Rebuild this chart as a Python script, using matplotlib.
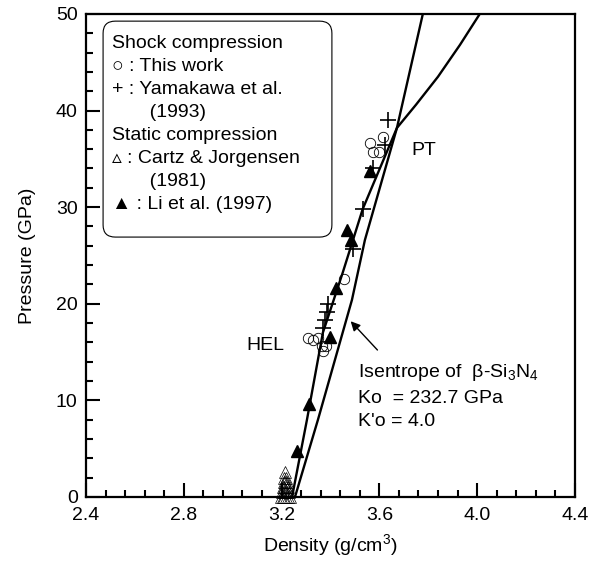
import numpy as np
import matplotlib
matplotlib.use("Agg")
import matplotlib.pyplot as plt
from matplotlib.patches import FancyBboxPatch

plt.rcParams['font.family'] = ['Liberation Sans', 'DejaVu Sans']
plt.rcParams['mathtext.fontset'] = 'custom'
plt.rcParams['mathtext.rm'] = 'Liberation Sans'
plt.rcParams['mathtext.it'] = 'Liberation Sans'

# Hugoniot (through the shock data) and isentrope
hug_density = [3.243, 3.304, 3.369, 3.450, 3.532, 3.672, 3.750, 3.840, 3.930, 4.011]
hug_pressure = [0.0, 8.0, 17.0, 23.2, 29.8, 38.2, 40.6, 43.5, 46.8, 50.0]
isen_density = [3.255, 3.349, 3.488, 3.541, 3.672, 3.778]
isen_pressure = [0.0, 8.0, 20.4, 26.6, 38.2, 50.0]

# Shock compression: this work
tw_density = [3.310, 3.330, 3.350, 3.365, 3.380, 3.370, 3.455, 3.562, 3.615, 3.576, 3.600]
tw_pressure = [16.5, 16.2, 16.5, 15.6, 15.6, 15.1, 22.6, 36.6, 37.3, 35.7, 35.7]

# Shock compression: Yamakawa et al. (1993)
ya_density = [3.368, 3.378, 3.386, 3.390, 3.492, 3.532, 3.574, 3.623, 3.636]
ya_pressure = [17.5, 18.3, 19.1, 20.0, 25.7, 29.8, 34.0, 36.4, 39.0]

# Static compression: Cartz & Jorgensen (1981)
cj_density = [3.196, 3.204, 3.212, 3.220, 3.228, 3.236, 3.200, 3.208, 3.216, 3.224, 3.232,
              3.204, 3.212, 3.220, 3.228, 3.208, 3.216, 3.224, 3.212, 3.220, 3.216]
cj_pressure = [0.0, 0.0, 0.0, 0.0, 0.0, 0.0, 0.5, 0.5, 0.5, 0.5, 0.5,
               1.0, 1.0, 1.0, 1.0, 1.5, 1.5, 1.5, 2.0, 2.0, 2.6]

# Static compression: Li et al. (1997)
li_density = [3.262, 3.312, 3.398, 3.422, 3.466, 3.486, 3.561]
li_pressure = [4.8, 9.6, 16.6, 21.6, 27.6, 26.6, 33.7]

legend_lines = ["Shock compression",
                "\u25cb : This work",
                "+ : Yamakawa et al.",
                "       (1993)",
                "Static compression",
                "\u25b5 : Cartz & Jorgensen",
                "       (1981)",
                "\u25b2 : Li et al. (1997)"]

fig = plt.figure(figsize=(5.97, 5.67), dpi=100)
ax = fig.add_axes([0.144, 0.1235, 0.819, 0.852])

ax.plot(hug_density, hug_pressure, color='black', lw=1.7, zorder=2)
ax.plot(isen_density, isen_pressure, color='black', lw=1.7, zorder=2)

ax.plot(cj_density, cj_pressure, linestyle='none', marker='^', ms=8, mfc='none',
        mec='black', mew=0.5, clip_on=False, zorder=3)
ax.plot(tw_density, tw_pressure, linestyle='none', marker='o', ms=7.5, mfc='none',
        mec='black', mew=0.6, zorder=3)
ax.plot(ya_density, ya_pressure, linestyle='none', marker='+', ms=11, mec='black',
        mew=1.2, zorder=3)
ax.plot(li_density, li_pressure, linestyle='none', marker='^', ms=9, mfc='black',
        mec='black', zorder=4)

ax.set_xlim(2.4, 4.4)
ax.set_ylim(0, 50)
ax.set_xticks(np.arange(2.4, 4.41, 0.4))
ax.set_xticks(np.arange(2.4, 4.41, 0.08), minor=True)
ax.set_yticks(np.arange(0, 51, 10))
ax.set_yticks(np.arange(0, 51, 2), minor=True)
ax.set_xticklabels(['2.4', '2.8', '3.2', '3.6', '4.0', '4.4'])
ax.tick_params(which='both', direction='in', width=1.5, labelsize=14)
ax.tick_params(which='major', length=10)
ax.tick_params(which='minor', length=5)
ax.tick_params(axis='x', pad=7)
ax.tick_params(axis='y', pad=6)
for s in ax.spines.values():
    s.set_linewidth(1.6)

ax.set_xlabel('Density (g/cm$^3$)', fontsize=14, labelpad=6)
ax.set_ylabel('Pressure (GPa)', fontsize=14, labelpad=14)

# legend box
box = FancyBboxPatch((0.035, 0.538), 0.468, 0.447, boxstyle='round,pad=0,rounding_size=0.025',
                     transform=ax.transAxes, fc='white', ec='black', lw=0.8, zorder=5)
ax.add_patch(box)
ax.text(0.053, 0.957, "\n".join(legend_lines), transform=ax.transAxes, ha='left', va='top',
        fontsize=14, linespacing=1.47, zorder=6)

ax.text(3.733, 35.9, 'PT', fontsize=14, va='center')
ax.text(3.058, 15.7, 'HEL', fontsize=14, va='center')
ax.text(3.512, 12.9, 'Isentrope of  \u03b2-Si$_3$N$_4$', fontsize=14, va='center')
ax.text(3.512, 10.2, 'Ko  = 232.7 GPa', fontsize=14, va='center')
ax.text(3.512, 7.8, "K'o = 4.0", fontsize=14, va='center')
ax.annotate('', xy=(3.475, 18.4), xytext=(3.60, 15.0),
            arrowprops=dict(arrowstyle='-|>', color='black', lw=1.0, mutation_scale=14))

fig.savefig('out.png', dpi=100)
